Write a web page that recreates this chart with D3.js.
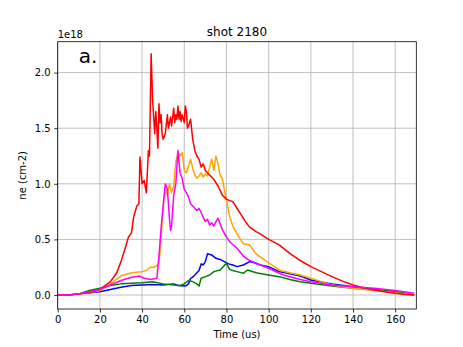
<!DOCTYPE html>
<html>
<head>
<meta charset="utf-8">
<script src="https://cdn.jsdelivr.net/npm/d3@7"></script>
<style>
  body { margin: 0; background: #fff; }
  svg { font-family: "DejaVu Sans", sans-serif; }
</style>
</head>
<body>
<div id="graph"></div>
<script>
// time samples (us) and density values (x 1e18 cm-2)
const redT = [0, 5, 10, 15, 20, 25, 28, 30, 32, 33.5, 35, 36, 37.5, 38.5, 39, 40, 41, 42, 42.5, 43, 43.5, 44.3, 45, 45.5, 46, 46.5, 47, 47.5, 48, 48.5, 49, 49.5, 50, 51, 52, 52.5, 53, 53.5, 54, 55, 55.5, 56, 56.5, 57, 57.5, 58, 58.5, 59, 60, 60.5, 61, 61.5, 62, 63, 64, 65, 66, 67, 68, 69, 70, 72, 74, 76, 78, 80, 83, 85, 87, 89, 91, 94, 96, 100, 105, 110, 115, 120, 125, 130, 135, 140, 145, 150, 155, 160, 165, 169];
const redV = [0, 0, 0.01, 0.02, 0.05, 0.12, 0.2, 0.3, 0.42, 0.52, 0.56, 0.7, 0.8, 0.82, 1.24, 1.0, 1.03, 0.92, 1.1, 1.3, 1.25, 2.17, 1.75, 1.6, 1.45, 1.65, 1.5, 1.32, 1.72, 1.55, 1.62, 1.45, 1.4, 1.45, 1.62, 1.5, 1.55, 1.6, 1.52, 1.68, 1.55, 1.62, 1.58, 1.7, 1.58, 1.65, 1.56, 1.62, 1.55, 1.7, 1.65, 1.5, 1.52, 1.58, 1.4, 1.3, 1.25, 1.22, 1.15, 1.18, 1.12, 1.08, 1.04, 0.98, 0.9, 0.86, 0.84, 0.78, 0.72, 0.66, 0.61, 0.57, 0.55, 0.5, 0.45, 0.375, 0.31, 0.255, 0.21, 0.165, 0.125, 0.09, 0.065, 0.045, 0.03, 0.015, 0.005, 0];

const orangeT = [0, 5, 10, 15, 20, 25, 30, 35, 40, 42, 44, 46, 48, 49, 50, 51, 52, 53, 54, 55, 56, 57, 58, 59, 60, 61, 62, 63, 64, 65, 66, 67, 68, 69, 70, 71, 72, 73, 74, 75, 76, 77, 78, 79, 80, 81.5, 83, 85, 88, 91, 94, 97, 100, 105, 110, 115, 120, 125, 130, 135, 140, 150, 160, 169];
const orangeV = [0, 0, 0.01, 0.02, 0.04, 0.1, 0.17, 0.2, 0.21, 0.22, 0.25, 0.25, 0.28, 0.5, 0.8, 0.95, 0.9, 1.0, 0.92, 0.98, 1.2, 1.28, 1.25, 1.28, 1.12, 1.1, 1.16, 1.22, 1.14, 1.08, 1.05, 1.07, 1.1, 1.06, 1.09, 1.07, 1.15, 1.22, 1.12, 1.25, 1.18, 1.08, 1.05, 0.95, 0.85, 0.71, 0.62, 0.55, 0.46, 0.45, 0.37, 0.33, 0.29, 0.225, 0.2, 0.18, 0.15, 0.12, 0.09, 0.075, 0.06, 0.04, 0.02, 0];

const magentaT = [0, 5, 10, 15, 20, 25, 30, 35, 39, 41, 44, 47, 48, 49, 50, 51, 52, 53, 53.5, 54, 55, 56, 57, 57.5, 58, 59, 60, 61, 62, 63, 64, 65, 66, 67, 68, 69, 70, 71, 72, 73, 74, 75, 76, 77, 78, 80, 82, 85, 88, 90, 94, 100, 107, 115, 120, 130, 140, 150, 160, 169];
const magentaV = [0, 0, 0.01, 0.03, 0.05, 0.09, 0.13, 0.16, 0.17, 0.15, 0.14, 0.15, 0.35, 0.6, 0.8, 1.0, 0.95, 0.68, 0.58, 0.62, 0.9, 1.0, 1.3, 1.2, 1.1, 1.05, 0.95, 0.92, 0.88, 0.82, 0.8, 0.78, 0.76, 0.78, 0.74, 0.7, 0.66, 0.68, 0.63, 0.65, 0.62, 0.66, 0.69, 0.64, 0.59, 0.52, 0.47, 0.42, 0.35, 0.32, 0.285, 0.24, 0.18, 0.14, 0.12, 0.09, 0.075, 0.06, 0.04, 0.015];

const blueT = [0, 5, 10, 15, 20, 25, 30, 35, 40, 45, 50, 55, 57, 60, 61, 62, 63, 64, 65, 66, 67, 68, 69, 70, 71, 73, 75, 77, 79, 81, 83, 85, 88, 91, 94, 96, 100, 105, 110, 115, 120, 130, 140, 150, 160, 169];
const blueV = [0, 0, 0.01, 0.02, 0.03, 0.05, 0.07, 0.085, 0.09, 0.095, 0.09, 0.1, 0.085, 0.08, 0.085, 0.1, 0.15, 0.16, 0.18, 0.2, 0.22, 0.28, 0.27, 0.3, 0.37, 0.36, 0.33, 0.32, 0.3, 0.28, 0.27, 0.255, 0.27, 0.3, 0.285, 0.27, 0.255, 0.21, 0.19, 0.17, 0.135, 0.1, 0.075, 0.05, 0.03, 0];

const greenT = [0, 5, 10, 15, 20, 25, 30, 35, 40, 45, 50, 55, 58, 60, 62, 64, 66, 67, 68, 70, 72, 74, 77, 80, 81.5, 83, 85, 88, 90, 94, 100, 105, 110, 115, 120, 130, 140, 150, 160, 169];
const greenV = [0, 0, 0.01, 0.04, 0.06, 0.085, 0.1, 0.105, 0.11, 0.12, 0.1, 0.09, 0.085, 0.1, 0.13, 0.12, 0.1, 0.08, 0.15, 0.165, 0.18, 0.21, 0.225, 0.285, 0.23, 0.22, 0.21, 0.195, 0.225, 0.2, 0.18, 0.165, 0.14, 0.12, 0.105, 0.08, 0.06, 0.045, 0.03, 0];

const xTicks = [0, 20, 40, 60, 80, 100, 120, 140, 160];
const yTicks = [0.0, 0.5, 1.0, 1.5, 2.0];

const series = [
  {t: blueT, v: blueV, color: "blue"},
  {t: greenT, v: greenV, color: "green"},
  {t: orangeT, v: orangeV, color: "orange"},
  {t: redT, v: redV, color: "red"},
  {t: magentaT, v: magentaV, color: "magenta"}
];

const W = 463, H = 347;
const margin = {top: 41.7, right: 46.7, bottom: 38, left: 57.7};
const width = W - margin.left - margin.right,
      height = H - margin.top - margin.bottom;

const svgRoot = d3.select("#graph").append("svg")
  .attr("width", W).attr("height", H);
const svg = svgRoot.append("g")
  .attr("transform", `translate(${margin.left},${margin.top})`);

const x = d3.scaleLinear().domain([0, 170]).range([0, width]);
const y = d3.scaleLinear().domain([-0.126, 2.278]).range([height, 0]);

// grid
svg.append("g").selectAll("line").data(xTicks).join("line")
  .attr("x1", d => x(d)).attr("x2", d => x(d))
  .attr("y1", 0).attr("y2", height)
  .attr("stroke", "#b0b0b0").attr("stroke-width", 0.8);
svg.append("g").selectAll("line").data(yTicks).join("line")
  .attr("y1", d => y(d)).attr("y2", d => y(d))
  .attr("x1", 0).attr("x2", width)
  .attr("stroke", "#b0b0b0").attr("stroke-width", 0.8);

// lines
const line = d3.line().x(d => x(d[0])).y(d => y(d[1]));
series.forEach(s => {
  svg.append("path")
    .datum(s.t.map((t, i) => [t, s.v[i]]))
    .attr("d", line)
    .attr("fill", "none")
    .attr("stroke", s.color)
    .attr("stroke-width", 1.5)
    .attr("stroke-linejoin", "round");
});

// frame
svg.append("rect")
  .attr("width", width).attr("height", height)
  .attr("fill", "none").attr("stroke", "black").attr("stroke-width", 0.8);

// axes
const xAxis = svg.append("g")
  .attr("transform", `translate(0,${height})`)
  .call(d3.axisBottom(x).tickValues(xTicks).tickSize(3.5).tickPadding(3.5).tickFormat(d3.format("d")));
const yAxis = svg.append("g")
  .call(d3.axisLeft(y).tickValues(yTicks).tickSize(3.5).tickPadding(3.5).tickFormat(d3.format(".1f")));
[xAxis, yAxis].forEach(a => {
  a.select(".domain").remove();
  a.selectAll("text").attr("font-size", 10).attr("font-family", "DejaVu Sans").attr("fill", "black");
  a.selectAll("line").attr("stroke-width", 0.8);
});

// labels
svgRoot.append("text")
  .attr("x", margin.left + width / 2).attr("y", margin.top - 6)
  .attr("text-anchor", "middle").attr("font-size", 12)
  .text("shot 2180");
svgRoot.append("text")
  .attr("x", margin.left).attr("y", margin.top - 4)
  .attr("font-size", 10)
  .text("1e18");
svgRoot.append("text")
  .attr("x", margin.left + width / 2).attr("y", H - 9)
  .attr("text-anchor", "middle").attr("font-size", 10)
  .text("Time (us)");
svgRoot.append("text")
  .attr("transform", `translate(26,${margin.top + height / 2}) rotate(-90)`)
  .attr("text-anchor", "middle").attr("font-size", 10)
  .text("ne (cm-2)");
svg.append("text")
  .attr("x", x(10)).attr("y", y(2.09))
  .attr("font-size", 20)
  .text("a.");
</script>
</body>
</html>
